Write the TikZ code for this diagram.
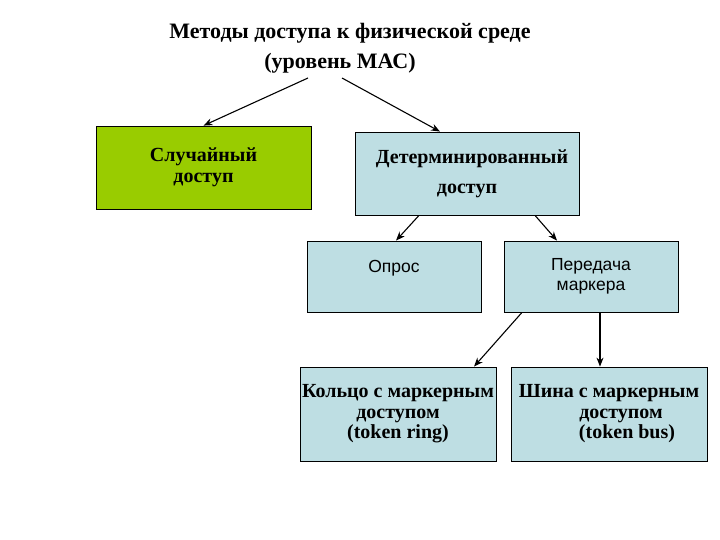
\documentclass[tikz,border=0pt]{standalone}
\usepackage{fontspec}
\setmainfont{Liberation Serif}
\newfontfamily\arialfont{Liberation Sans}
\usetikzlibrary{arrows.meta}

\definecolor{randgreen}{RGB}{153,204,0}
\definecolor{detblue}{RGB}{190,222,227}

\tikzset{
  box/.style={draw, line width=0.8pt, rectangle, inner sep=0pt, align=center},
  serifbox/.style={box, font=\fontsize{20}{20.5}\selectfont\bfseries},
  sansbox/.style={box, fill=detblue, font=\fontsize{17.5}{20}\arialfont},
  arr/.style={-{Stealth[length=9pt,width=7pt]}, line width=1.1pt}
}

\begin{document}
\begin{tikzpicture}[x=1pt,y=-1pt]
  \useasboundingbox (0,0) rectangle (720,540);

  \node[font=\fontsize{22}{30}\selectfont\bfseries, align=center] (title) at (350,48)
    {Методы доступа к физической среде\\\hspace*{-20pt}(уровень МАС)};
  \coordinate (tl) at (308,78);
  \coordinate (tr) at (342,78);

  \node[serifbox, fill=randgreen, minimum width=215pt, minimum height=83pt] (random) at (203.5,167.5) {Случайный\\доступ};
  \node[serifbox, fill=detblue, minimum width=224pt, minimum height=83pt, font=\fontsize{20}{30}\selectfont\bfseries] (determ) at (467,173.5) {\hspace*{10pt}Детерминированный\\доступ};

  \node[sansbox, minimum width=174pt, minimum height=71pt, text depth=20pt] (poll) at (394,276.5) {Опрос};
  \node[sansbox, minimum width=174pt, minimum height=71pt] (token) at (591,276.5) {Передача\\маркера};

  \node[serifbox, fill=detblue, minimum width=196pt, minimum height=94pt] (ring) at (398,414)
    {Кольцо с маркерным\\доступом\\(token ring)};
  \node[serifbox, fill=detblue, minimum width=196pt, minimum height=94pt] (bus) at (609,414)
    {Шина с маркерным\\\hspace*{24pt}доступом\\\hspace*{36pt}(token bus)};

  \draw[arr] (tl) -- (random.north);
  \draw[arr] (tr) -- ([xshift=-27pt]determ.north);
  \draw[arr] ([xshift=-48pt]determ.south) -- ([xshift=2pt]poll.north);
  \draw[arr] ([xshift=68pt]determ.south) -- ([xshift=-34pt]token.north);
  \draw[arr] ([xshift=-69pt]token.south) -- ([xshift=76pt]ring.north);
  \draw[arr] ([xshift=9pt]token.south) -- ([xshift=-9pt]bus.north);
\end{tikzpicture}
\end{document}
